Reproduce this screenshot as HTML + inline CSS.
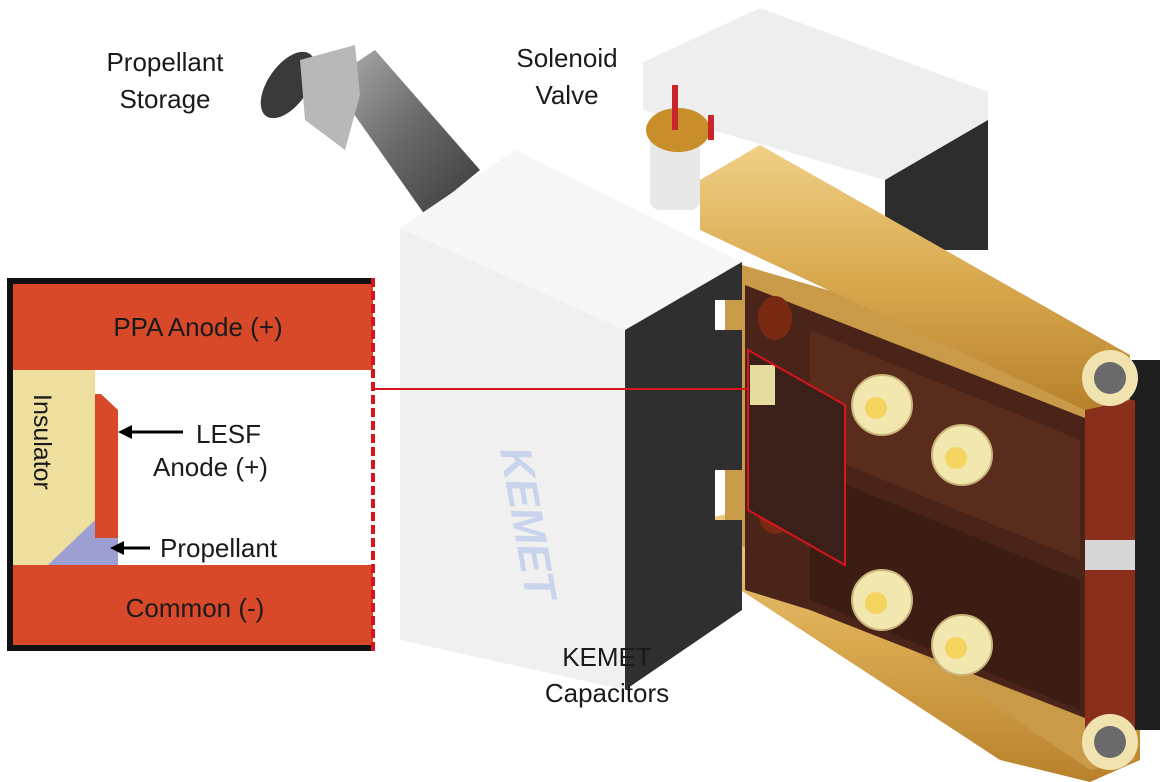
<!DOCTYPE html>
<html><head><meta charset="utf-8"><style>
html,body{margin:0;padding:0;background:#fff}
svg{display:block}
text{font-family:"Liberation Sans",sans-serif;fill:#1a1a1a}
</style></head><body>
<svg width="1170" height="782" viewBox="0 0 1170 782" xmlns="http://www.w3.org/2000/svg">
<defs>
<linearGradient id="gold" x1="0" y1="0" x2="0" y2="1"><stop offset="0" stop-color="#f0cf86"/><stop offset="0.5" stop-color="#d9a94f"/><stop offset="1" stop-color="#b8812c"/></linearGradient>
<linearGradient id="barrel" x1="0" y1="0" x2="1" y2="1"><stop offset="0" stop-color="#b0b0b0"/><stop offset="0.5" stop-color="#6a6a6a"/><stop offset="1" stop-color="#3a3a3a"/></linearGradient>
</defs>

<polygon points="330,80 375,50 480,170 425,215" fill="url(#barrel)"/>
<ellipse cx="288" cy="85" rx="20" ry="38" transform="rotate(35 288 85)" fill="#3a3a3a"/>
<polygon points="300,60 355,45 360,95 345,150 305,120" fill="#b8b8b8"/>

<polygon points="643,62 760,8 988,92 988,250 885,250 885,180 643,110" fill="#eeeeee"/>
<polygon points="885,180 988,120 988,250 885,250" fill="#2d2d2d"/>

<polygon points="700,520 790,500 1140,700 1140,760 1090,782 1000,760 710,570" fill="url(#gold)"/>
<polygon points="725,260 1135,380 1135,760 1090,770 780,560 725,540" fill="#c99a48"/>

<polygon points="745,285 1090,420 1090,720 810,610 745,590" fill="#4a2418"/>
<polygon points="810,330 1080,440 1080,560 810,450" fill="#5a2c1c"/>
<polygon points="810,470 1080,580 1080,710 810,600" fill="#3c1d14"/>
<rect x="1090" y="360" width="70" height="370" fill="#1f1f1f"/>
<rect x="1085" y="400" width="50" height="330" fill="#8a2f1c"/>
<rect x="1085" y="540" width="50" height="30" fill="#d6d6d6"/>

<g fill="#f3e7b0" stroke="#c9b57a" stroke-width="2">
<ellipse cx="882" cy="405" rx="30" ry="30"/>
<ellipse cx="962" cy="455" rx="30" ry="30"/>
<ellipse cx="882" cy="600" rx="30" ry="30"/>
<ellipse cx="962" cy="645" rx="30" ry="30"/>
</g>
<g fill="#f4d35e"><circle cx="876" cy="408" r="11"/><circle cx="956" cy="458" r="11"/><circle cx="876" cy="603" r="11"/><circle cx="956" cy="648" r="11"/></g>

<ellipse cx="775" cy="318" rx="17" ry="22" fill="#7a2a12"/>
<ellipse cx="775" cy="512" rx="17" ry="22" fill="#7a2a12"/>

<polygon points="748,350 845,405 845,565 748,510" fill="#3a2018"/>
<rect x="750" y="365" width="25" height="40" fill="#e6dca0"/>
<polygon points="748,350 845,405 845,565 748,510" fill="none" stroke="#d8141c" stroke-width="2"/>

<rect x="650" y="130" width="50" height="80" rx="10" fill="#e8e8e8"/>
<ellipse cx="678" cy="130" rx="32" ry="22" fill="#c88e2a"/>
<rect x="672" y="85" width="6" height="45" fill="#c8262a"/>
<rect x="708" y="115" width="6" height="25" fill="#c8262a"/>

<polygon points="700,180 760,145 1130,355 1130,400 1085,410 700,230" fill="url(#gold)"/>
<circle cx="1110" cy="378" r="28" fill="#f0e3b0"/><circle cx="1110" cy="378" r="16" fill="#6a6a6a"/>
<circle cx="1110" cy="742" r="28" fill="#f0e3b0"/><circle cx="1110" cy="742" r="16" fill="#6a6a6a"/>

<polygon points="400,228 515,150 742,262 625,330" fill="#f6f6f6"/>
<polygon points="400,228 625,330 625,690 400,640" fill="#f0f0f0"/>
<polygon points="625,330 742,262 742,300 715,300 715,330 742,330 742,470 715,470 715,520 742,520 742,610 625,690" fill="#2f2f2f"/>
<text x="500" y="450" font-size="44" font-style="italic" font-weight="bold" style="fill:#c8d4ec" transform="rotate(80 500 450)">KEMET</text>

<line x1="373" y1="389" x2="748" y2="389" stroke="#d8141c" stroke-width="2"/>

<rect x="7" y="278" width="366" height="373" fill="#111"/>
<rect x="13" y="284" width="360" height="361" fill="#fff"/>
<rect x="13" y="284" width="360" height="86" fill="#d8492a"/>
<rect x="13" y="565" width="360" height="80" fill="#d8492a"/>
<rect x="13" y="370" width="82" height="195" fill="#eedf9e"/>
<polygon points="48,565 95,520 118,538 118,565" fill="#9d9ed2"/>
<polygon points="95,394 101,394 118,410 118,538 95,538" fill="#d8492a"/>
<line x1="373" y1="278" x2="373" y2="651" stroke="#d8141c" stroke-width="4" stroke-dasharray="9,4"/>
<text x="198" y="336" font-size="26" text-anchor="middle">PPA Anode (+)</text>
<text x="195" y="617" font-size="26" text-anchor="middle">Common (-)</text>
<text x="0" y="0" font-size="25" transform="translate(34,394) rotate(90)">Insulator</text>
<text x="196" y="443" font-size="26">LESF</text>
<text x="153" y="476" font-size="26">Anode (+)</text>
<text x="160" y="557" font-size="26">Propellant</text>
<polygon points="118,432 132,425 132,439" fill="#000"/><line x1="130" y1="432" x2="183" y2="432" stroke="#000" stroke-width="3"/>
<polygon points="110,548 124,541 124,555" fill="#000"/><line x1="122" y1="548" x2="150" y2="548" stroke="#000" stroke-width="3"/>

<text x="165" y="71" font-size="26" text-anchor="middle">Propellant</text>
<text x="165" y="108" font-size="26" text-anchor="middle">Storage</text>
<text x="567" y="67" font-size="26" text-anchor="middle">Solenoid</text>
<text x="567" y="104" font-size="26" text-anchor="middle">Valve</text>
<text x="607" y="666" font-size="26" text-anchor="middle">KEMET</text>
<text x="607" y="702" font-size="26" text-anchor="middle">Capacitors</text>
</svg>
</body></html>
